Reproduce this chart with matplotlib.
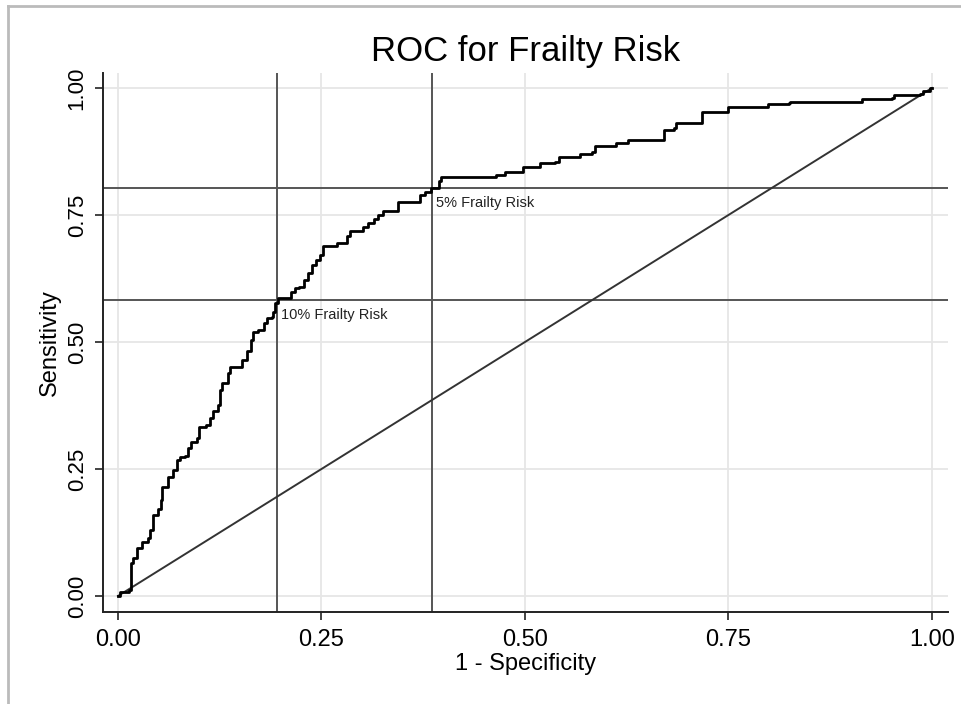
"""
ROC curve for frailty risk with two cut-off reference lines.
"""

import matplotlib
matplotlib.use("Agg")
import matplotlib.pyplot as plt
from matplotlib.lines import Line2D

plt.rcParams['font.family'] = ['Liberation Sans', 'DejaVu Sans']

# ROC curve vertices (1 - specificity, sensitivity)
fpr = [0.000, 0.003, 0.013, 0.016, 0.019, 0.023, 0.029, 0.037, 0.039, 0.043,
       0.049, 0.053, 0.054, 0.062, 0.062, 0.068, 0.072, 0.076, 0.082, 0.086,
       0.090, 0.097, 0.100, 0.108, 0.113, 0.117, 0.123, 0.125, 0.128, 0.135,
       0.138, 0.149, 0.152, 0.158, 0.164, 0.166, 0.172, 0.179, 0.183, 0.189,
       0.191, 0.193, 0.197, 0.209, 0.213, 0.217, 0.223, 0.228, 0.234, 0.238,
       0.243, 0.248, 0.252, 0.264, 0.269, 0.277, 0.281, 0.285, 0.297, 0.301,
       0.307, 0.314, 0.320, 0.326, 0.340, 0.344, 0.369, 0.371, 0.377, 0.385,
       0.394, 0.397, 0.408, 0.463, 0.465, 0.476, 0.492, 0.497, 0.518, 0.519,
       0.537, 0.542, 0.563, 0.567, 0.582, 0.586, 0.610, 0.612, 0.626, 0.664,
       0.671, 0.683, 0.685, 0.710, 0.717, 0.742, 0.749, 0.794, 0.799, 0.824,
       0.826, 0.912, 0.914, 0.951, 0.953, 0.985, 0.989, 0.998, 1.000]
tpr = [0.000, 0.008, 0.012, 0.065, 0.074, 0.094, 0.107, 0.114, 0.130, 0.159,
       0.172, 0.189, 0.215, 0.215, 0.235, 0.248, 0.268, 0.273, 0.275, 0.291,
       0.304, 0.311, 0.332, 0.336, 0.350, 0.365, 0.376, 0.406, 0.419, 0.438,
       0.451, 0.451, 0.465, 0.482, 0.504, 0.520, 0.524, 0.537, 0.547, 0.550,
       0.560, 0.576, 0.586, 0.586, 0.599, 0.606, 0.608, 0.622, 0.635, 0.652,
       0.661, 0.671, 0.688, 0.688, 0.695, 0.695, 0.708, 0.719, 0.719, 0.727,
       0.734, 0.742, 0.750, 0.757, 0.757, 0.776, 0.776, 0.789, 0.796, 0.803,
       0.816, 0.825, 0.824, 0.824, 0.829, 0.834, 0.834, 0.844, 0.844, 0.853,
       0.855, 0.865, 0.865, 0.871, 0.874, 0.885, 0.885, 0.892, 0.898, 0.898,
       0.917, 0.921, 0.931, 0.932, 0.952, 0.953, 0.962, 0.962, 0.968, 0.970,
       0.973, 0.973, 0.978, 0.981, 0.986, 0.988, 0.995, 1.000, 1.000]

# cut-off points (x = 1 - specificity, y = sensitivity)
cut_labels = ['10% Frailty Risk', '5% Frailty Risk']
cut_fpr = [0.195, 0.386]
cut_tpr = [0.583, 0.803]

ticks = [0.0, 0.25, 0.5, 0.75, 1.0]
tick_labels = ['0.00', '0.25', '0.50', '0.75', '1.00']

fig = plt.figure(figsize=(9.61, 7.04), dpi=100)
ax = fig.add_axes([103 / 961, 1 - 612 / 704, 845 / 961, 539 / 704])

ax.set_xlim(-0.0184, 1.0197)
ax.set_ylim(-0.0315, 1.0295)

ax.set_xticks(ticks)
ax.set_xticklabels(tick_labels)
ax.set_yticks(ticks)
ax.set_yticklabels(tick_labels, rotation=90, va='center')
ax.grid(True, color='#e6e6e6', linewidth=1.3, zorder=0)
ax.set_axisbelow(True)

for side in ['top', 'right']:
    ax.spines[side].set_visible(False)
for side in ['left', 'bottom']:
    ax.spines[side].set_linewidth(1.4)
    ax.spines[side].set_color('#222222')
ax.tick_params(length=6, width=1.2, color='#222222', labelsize=17, pad=6)
ax.tick_params(axis='y', labelsize=16, pad=5)

# reference lines through cut-offs
for x in cut_fpr:
    ax.axvline(x, color='#555555', linewidth=1.4, zorder=2)
for y in cut_tpr:
    ax.axhline(y, color='#555555', linewidth=1.4, zorder=2)

# chance diagonal and ROC curve
ax.plot([0, 1], [0, 1], color='#333333', linewidth=1.4, zorder=3)
ax.plot(fpr, tpr, color='black', linewidth=2.0, drawstyle='steps-post', zorder=4)

for lab, x, y in zip(cut_labels, cut_fpr, cut_tpr):
    ax.annotate(lab, xy=(x, y), xytext=(3, -6), textcoords='offset points',
                ha='left', va='top', fontsize=10.5, color='#222222')

ax.set_xlabel('1 - Specificity', fontsize=17, labelpad=2)
ax.set_ylabel('Sensitivity', fontsize=17, labelpad=4)

fig.text((103 + 948) / 2 / 961, 1 - 52 / 704, 'ROC for Frailty Risk',
         ha='center', va='center', fontsize=25)

# light outer frame (left and top edges visible)
fig.add_artist(Line2D([8 / 961, 8 / 961], [0, 1 - 6 / 704],
                      transform=fig.transFigure, color='#bbbbbb', linewidth=2))
fig.add_artist(Line2D([8 / 961, 1], [1 - 6 / 704, 1 - 6 / 704],
                      transform=fig.transFigure, color='#bbbbbb', linewidth=2))

fig.savefig('out.png', dpi=100)
